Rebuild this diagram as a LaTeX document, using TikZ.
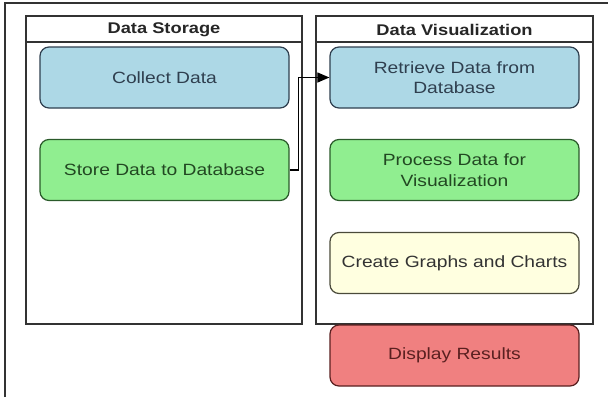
\documentclass[tikz,border=0pt]{standalone}
\usepackage{fontspec}
\setmainfont[FakeStretch=1.18]{Liberation Sans}
\usetikzlibrary{arrows.meta}
\definecolor{bluef}{HTML}{ADD8E6}
\definecolor{greenf}{HTML}{90EE90}
\definecolor{yellowf}{HTML}{FFFFE0}
\definecolor{redf}{HTML}{F08080}
\definecolor{blued}{HTML}{2F3F4F}
\definecolor{greend}{HTML}{2A5A2A}
\definecolor{yellowd}{HTML}{4A4A3A}
\definecolor{redd}{HTML}{5A2020}
\tikzset{
  pool/.style={draw=black!80, line width=1.3pt},
  title/.style={font=\fontsize{15.5}{18}\selectfont\bfseries, text=black!85},
  stepbox/.style={rounded corners=9pt, line width=1.2pt, minimum width=249pt, minimum height=61pt, align=center, font=\fontsize{16.3}{20.5}\selectfont, inner sep=0pt},
  bluebox/.style={stepbox, draw=blued, fill=bluef, text=blued},
  greenbox/.style={stepbox, draw=greend, fill=greenf, text=greend!80!black},
  yellowbox/.style={stepbox, draw=yellowd, fill=yellowf, text=black!80},
  redbox/.style={stepbox, draw=redd, fill=redf, text=redd},
}
\begin{document}
\begin{tikzpicture}[x=1pt,y=-1pt]
\useasboundingbox (0,0) rectangle (608,397);
\fill[white] (0,0) rectangle (608,397);
% outer frame
\draw[black!80, line width=1.3pt] (5,397) -- (5,3) -- (608,3);
% pools
\draw[pool] (26,16) rectangle (302,324);
\draw[pool] (26,42) -- (302,42);
\node[title] (t1) at (164,29.5) {Data Storage};
\draw[pool] (316,16) rectangle (593,324);
\draw[pool] (316,42) -- (593,42);
\node[title] (t2) at (454.5,29.5) {Data Visualization};
% boxes
\node[bluebox] (collect) at (164.5,77.5) {Collect Data};
\node[greenbox] (store) at (164.5,170) {Store Data to Database};
\node[bluebox] (retrieve) at (454.5,77.5) {Retrieve Data from\\Database};
\node[greenbox] (process) at (454.5,170) {Process Data for\\Visualization};
\node[yellowbox] (create) at (454.5,263) {Create Graphs and Charts};
\node[redbox] (display) at (454.5,355.5) {Display Results};
% connector
\draw[line width=1.1pt, black, -{Triangle[length=12pt,width=10pt]}]
  (store.east) -- ++(8.5,0) |- (retrieve.west);
\end{tikzpicture}
\end{document}
